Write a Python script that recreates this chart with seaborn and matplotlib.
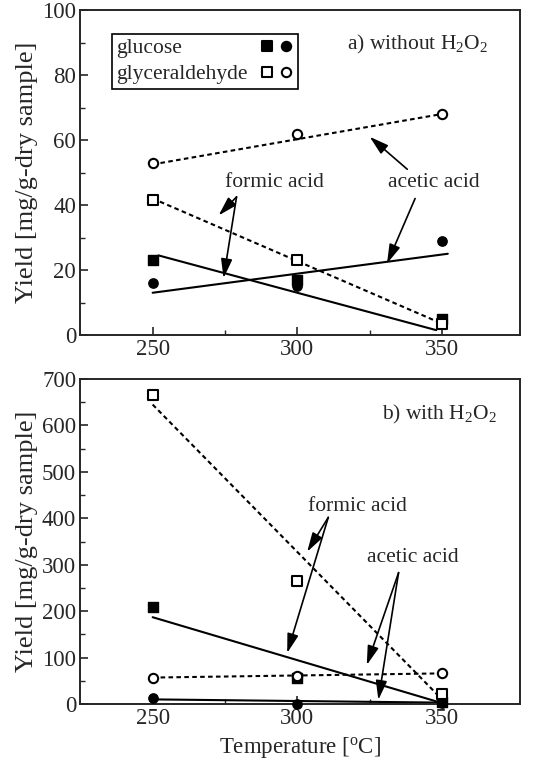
import numpy as np
import pandas as pd
import seaborn as sns
import matplotlib
matplotlib.use("Agg")
import matplotlib.pyplot as plt
from matplotlib.patches import Rectangle

temps = [250, 300, 350]

# a) without H2O2  (mg/g-dry sample)
a_glu_formic = [23, 17, 5]
a_glu_acetic = [16, 15, 29]
a_gly_formic = [41.5, 23, 3.5]
a_gly_acetic = [53, 62, 68]

# b) with H2O2
b_glu_formic = [210, 55, 5]
b_glu_acetic = [12, 0, 2]
b_gly_formic = [665, 265, 22]
b_gly_acetic = [57, 60, 67]

# trend lines (x ends, y ends)
a_fit_glu_formic = ([252, 348], [24.5, 1.5])
a_fit_glu_acetic = ([250, 352], [13, 25])
a_fit_gly_formic = ([250, 350], [42, 3.5])
a_fit_gly_acetic = ([250, 350], [52.5, 68])

b_fit_glu_formic = ([250, 350], [187, 2])
b_fit_glu_acetic = ([250, 350], [10, 3])
b_fit_gly_formic = ([250, 350], [645, 10])
b_fit_gly_acetic = ([250, 350], [57, 66])

legend_labels = ["glucose", "glyceraldehyde"]

sns.set_style("ticks")
plt.rcParams["font.family"] = ["Liberation Serif", "DejaVu Serif"]
plt.rcParams["mathtext.fontset"] = "custom"
plt.rcParams["mathtext.rm"] = "Liberation Serif"
plt.rcParams["mathtext.it"] = "Liberation Serif:italic"
plt.rcParams["font.size"] = 15.5

DASH = (0, (2.2, 1.6))
MS = 45


def panel(ax, fits, series, ylim, ymajor, yminor):
    styles = ["-", "-", DASH, DASH]
    for (fx, fy), ls in zip(fits, styles):
        sns.lineplot(x=fx, y=fy, ax=ax, color="k", lw=1.5, linestyle=ls,
                     estimator=None, sort=False)
    glu_f, glu_a, gly_f, gly_a = series
    sns.scatterplot(x=temps, y=glu_f, ax=ax, marker="s", color="k", s=MS,
                    edgecolor="k", linewidth=1, zorder=3, clip_on=False)
    sns.scatterplot(x=temps, y=glu_a, ax=ax, marker="o", color="k", s=MS,
                    edgecolor="k", linewidth=1, zorder=3, clip_on=False)
    sns.scatterplot(x=temps, y=gly_f, ax=ax, marker="s", color="white", s=MS,
                    edgecolor="k", linewidth=1.5, zorder=4, clip_on=False)
    sns.scatterplot(x=temps, y=gly_a, ax=ax, marker="o", color="white", s=MS,
                    edgecolor="k", linewidth=1.5, zorder=4, clip_on=False)
    ax.set_xlim(225, 377)
    ax.set_ylim(*ylim)
    ax.set_xticks([250, 300, 350])
    ax.set_xticks([275, 325], minor=True)
    ax.set_yticks(ymajor)
    ax.set_yticks(yminor, minor=True)
    ax.tick_params(direction="in", which="major", length=6, width=1.2,
                   labelsize=16.5, pad=3)
    ax.tick_params(direction="in", which="minor", length=3.5, width=1)
    for s in ax.spines.values():
        s.set_visible(True)
        s.set_linewidth(1.4)
    ax.set_ylabel("Yield [mg/g-dry sample]", fontsize=19, labelpad=3)


def arrow(ax, tail, head):
    ax.annotate("", xy=head, xytext=tail,
                arrowprops=dict(arrowstyle="-|>,head_length=0.75,head_width=0.22",
                                color="k", lw=1.2, shrinkA=0, shrinkB=0))


fig = plt.figure(figsize=(5.39, 7.64), dpi=100)
ax1 = fig.add_axes([0.149, 0.5615, 0.816, 0.4254])
ax2 = fig.add_axes([0.149, 0.0785, 0.816, 0.4254])

panel(ax1, [a_fit_glu_formic, a_fit_glu_acetic, a_fit_gly_formic, a_fit_gly_acetic],
      [a_glu_formic, a_glu_acetic, a_gly_formic, a_gly_acetic],
      (0, 100), np.arange(0, 101, 20), np.arange(10, 100, 20))
panel(ax2, [b_fit_glu_formic, b_fit_glu_acetic, b_fit_gly_formic, b_fit_gly_acetic],
      [b_glu_formic, b_glu_acetic, b_gly_formic, b_gly_acetic],
      (0, 700), np.arange(0, 701, 100), np.arange(50, 700, 100))
ax1.set_xlabel("")
ax2.set_xlabel(r"Temperature [$^\mathregular{o}$C]", fontsize=16.5, labelpad=4)

# panel a annotations
ax1.text(341.5, 89.3, r"a) without H$_\mathregular{2}$O$_\mathregular{2}$", ha="center", va="center")
ax1.text(292, 47, "formic acid", ha="center", va="center")
ax1.text(347, 47, "acetic acid", ha="center", va="center")
arrow(ax1, (279, 42.5), (272.8, 36.8))
arrow(ax1, (279, 42.5), (274.5, 17.5))
arrow(ax1, (338, 51), (325, 61))
arrow(ax1, (340.7, 42), (331, 22))

# panel b annotations
ax2.text(349, 624, r"b) with H$_\mathregular{2}$O$_\mathregular{2}$", ha="center", va="center")
ax2.text(320.7, 425, "formic acid", ha="center", va="center")
ax2.text(340, 315, "acetic acid", ha="center", va="center")
arrow(ax2, (310.7, 402), (303.4, 328))
arrow(ax2, (310.7, 402), (296.5, 110))
arrow(ax2, (335, 283), (324, 84))
arrow(ax2, (335, 283), (328, 9))

# legend box: labels left, symbols in a right-hand column
tr = ax1.transAxes
ax1.add_patch(Rectangle((0.073, 0.758), 0.422, 0.169, transform=tr, fill=False,
                        edgecolor="k", lw=1.2, zorder=5))
for lab, ly, fill in zip(legend_labels, [0.890, 0.810], ["k", "white"]):
    ax1.text(0.082, ly, lab, transform=tr, ha="left", va="center_baseline", zorder=6)
    ax1.scatter([0.425], [ly], marker="s", s=MS, color=fill, edgecolor="k",
                linewidth=1.5, transform=tr, zorder=6)
    ax1.scatter([0.468], [ly], marker="o", s=MS, color=fill, edgecolor="k",
                linewidth=1.5, transform=tr, zorder=6)

fig.savefig("out.png", dpi=100)
